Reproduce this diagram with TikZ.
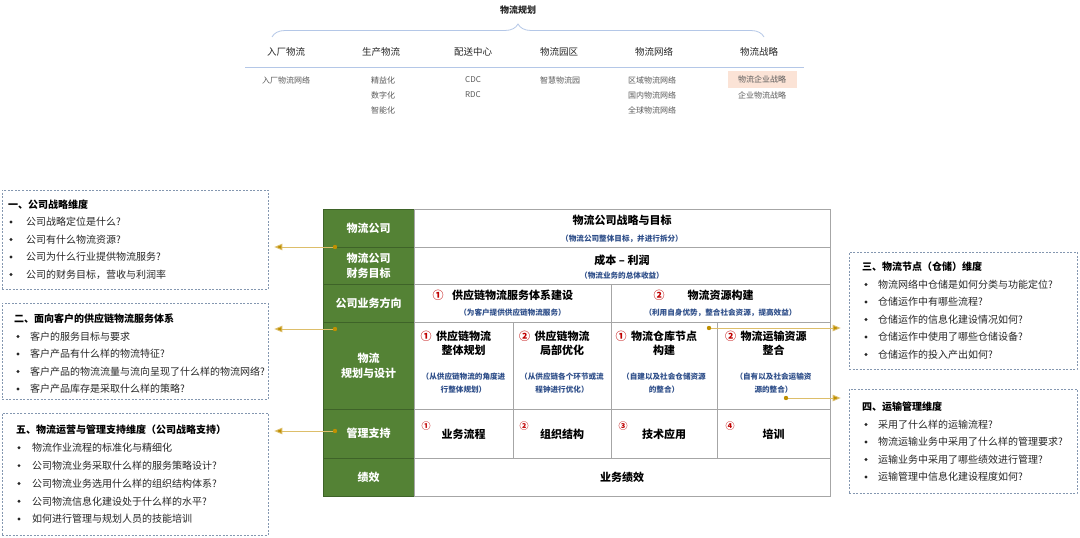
\documentclass[tikz,border=0pt]{standalone}
\usepackage{fontspec}
\setmainfont{Noto Sans CJK SC}
\usetikzlibrary{arrows.meta,decorations.pathreplacing,calc}

\definecolor{tgreen}{HTML}{548235}
\definecolor{tgreenD}{HTML}{3E6328}
\definecolor{tgrid}{HTML}{A6A6A6}
\definecolor{tblue}{HTML}{2F4F8A}
\definecolor{tred}{HTML}{C00000}
\definecolor{goldD}{HTML}{BF9000}
\definecolor{goldL}{HTML}{DDBE6A}
\definecolor{dashc}{HTML}{8497B0}
\definecolor{txt}{HTML}{262626}
\definecolor{topc}{HTML}{262626}
\definecolor{itemc}{HTML}{595959}
\definecolor{bracec}{HTML}{B4C7E7}
\definecolor{hilite}{HTML}{FBE3D6}

\tikzset{
  gcell/.style={draw=tgreenD, fill=tgreen, line width=0.6pt, inner sep=0pt, text=white,
    font=\fontsize{11}{15}\selectfont\bfseries, align=center},
  wcell/.style={draw=tgrid, fill=white, line width=0.7pt, inner sep=0pt},
  ttl/.style={inner sep=0pt, font=\fontsize{11}{14}\selectfont\bfseries, text=black},
  subt/.style={inner sep=0pt, font=\fontsize{7.6}{13}\selectfont\bfseries, text=tblue, align=center},
  numr/.style={inner sep=0pt, font=\fontsize{11}{14}\selectfont\bfseries, text=tred},
  nums/.style={inner sep=0pt, font=\fontsize{9}{11}\selectfont\bfseries, text=tred},
  qbox/.style={draw=dashc, dash pattern=on 2pt off 1.5pt, line width=0.7pt, inner sep=0pt},
  qtitle/.style={inner sep=0pt, anchor=west, font=\fontsize{10}{12}\selectfont\bfseries, text=black},
  qline/.style={inner sep=0pt, anchor=west, font=\fontsize{10}{12}\selectfont, text=txt},
  qdot/.style={circle, fill=txt, inner sep=0pt, minimum size=3.2pt},
  conn/.style={draw=goldL, line width=0.9pt, -{Triangle[length=8pt,width=6.5pt,fill=goldD]}},
  dotc/.style={fill=goldD},
  toptitle/.style={inner sep=0pt, font=\fontsize{9}{11}\selectfont\bfseries, text=topc},
  head/.style={inner sep=0pt, font=\fontsize{9.5}{11}\selectfont, text=topc},
  item/.style={inner sep=0pt, font=\fontsize{8}{10}\selectfont, text=itemc},
}

\begin{document}
\begin{tikzpicture}[x=1pt,y=-1pt]
\useasboundingbox (0,0) rectangle (1080,538);
\fill[white] (0,0) rectangle (1080,538);

% ---------- top tree ----------
\node[toptitle] (root) at (518,10) {物流规划};
\draw[bracec, line width=0.8pt, decorate, decoration={brace, amplitude=13pt, aspect=0.5}] (272,37) -- (764,37);
\draw[bracec, line width=0.8pt] (245,67) -- (804,67);

\node[head] (h1) at (286,52) {入厂物流};
\node[head] (h2) at (381,52) {生产物流};
\node[head] (h3) at (473,52) {配送中心};
\node[head] (h4) at (559,52) {物流园区};
\node[head] (h5) at (654,52) {物流网络};
\node[head] (h6) at (759,52) {物流战略};

\node[item] (i1a) at (286,80) {入厂物流网络};
\node[item] (i2a) at (383,80) {精益化};
\node[item] (i2b) at (383,95) {数字化};
\node[item] (i2c) at (383,110) {智能化};
\node[item] (i3a) at (473,80) {CDC};
\node[item] (i3b) at (473,95) {RDC};
\node[item] (i4a) at (560,80) {智慧物流园};
\node[item] (i5a) at (652,80) {区域物流网络};
\node[item] (i5b) at (652,95) {国内物流网络};
\node[item] (i5c) at (652,110) {全球物流网络};
\node[item, fill=hilite, minimum width=69pt, minimum height=17pt] (i6a) at (762,79) {物流企业战略};
\node[item] (i6b) at (762,95) {企业物流战略};

% ---------- table ----------
\node[gcell, minimum width=91pt, minimum height=38pt] (g1) at (368.5,228) {物流公司};
\node[gcell, minimum width=91pt, minimum height=37pt] (g2) at (368.5,265.5) {物流公司\\财务目标};
\node[gcell, minimum width=91pt, minimum height=38pt] (g3) at (368.5,303) {公司业务方向};
\node[gcell, minimum width=91pt, minimum height=87pt] (g4) at (368.5,365.5) {物流\\规划与设计};
\node[gcell, minimum width=91pt, minimum height=49pt] (g5) at (368.5,433.5) {管理支持};
\node[gcell, minimum width=91pt, minimum height=38pt] (g6) at (368.5,477) {绩效};

\node[wcell, minimum width=416pt, minimum height=38pt] (c1) at (622,228) {};
\node[wcell, minimum width=416pt, minimum height=37pt] (c2) at (622,265.5) {};
\node[wcell, minimum width=197pt, minimum height=38pt] (c3a) at (512.5,303) {};
\node[wcell, minimum width=219pt, minimum height=38pt] (c3b) at (720.5,303) {};
\node[wcell, minimum width=99pt, minimum height=87pt] (c4a) at (463.5,365.5) {};
\node[wcell, minimum width=98pt, minimum height=87pt] (c4b) at (562,365.5) {};
\node[wcell, minimum width=106pt, minimum height=87pt] (c4c) at (664,365.5) {};
\node[wcell, minimum width=113pt, minimum height=87pt] (c4d) at (773.5,365.5) {};
\node[wcell, minimum width=99pt, minimum height=49pt] (c5a) at (463.5,433.5) {};
\node[wcell, minimum width=98pt, minimum height=49pt] (c5b) at (562,433.5) {};
\node[wcell, minimum width=106pt, minimum height=49pt] (c5c) at (664,433.5) {};
\node[wcell, minimum width=113pt, minimum height=49pt] (c5d) at (773.5,433.5) {};
\node[wcell, minimum width=416pt, minimum height=38pt] (c6) at (622,477) {};

% row 1, 2
\node[ttl] (t1) at (622,220) {物流公司战略与目标};
\node[subt] (s1) at (622,239) {（物流公司整体目标，并进行拆分）};
\node[ttl] (t2) at (622,260) {成本 – 利润};
\node[subt] (s2) at (622,276) {（物流业务的总体收益）};
% row 3
\node[ttl] (t3a) at (512.5,295) {供应链物流服务体系建设};
\node[numr, anchor=east] (n3a) at ([xshift=-8pt]t3a.west) {①};
\node[subt] (s3a) at (512.5,313) {（为客户提供供应链物流服务）};
\node[ttl] (t3b) at (720.5,295) {物流资源构建};
\node[numr] (n3b) at (659,295) {②};
\node[subt] (s3b) at (720.5,313) {（利用自身优势，整合社会资源，提高效益）};
% row 4
\node[ttl] (t4a1) at (463.5,336) {供应链物流};
\node[ttl] (t4a2) at (463.5,350) {整体规划};
\node[numr, anchor=east] (n4a) at ([xshift=-4pt]t4a1.west) {①};
\node[subt] (s4a) at (463.5,383.5) {（从供应链物流的角度进\\行整体规划）};
\node[ttl] (t4b1) at (562,336) {供应链物流};
\node[ttl] (t4b2) at (562,350) {局部优化};
\node[numr, anchor=east] (n4b) at ([xshift=-4pt]t4b1.west) {②};
\node[subt] (s4b) at (562,383.5) {（从供应链各个环节或流\\程钟进行优化）};
\node[ttl] (t4c1) at (664,336) {物流仓库节点};
\node[ttl] (t4c2) at (664,350) {构建};
\node[numr, anchor=east] (n4c) at ([xshift=-4pt]t4c1.west) {①};
\node[subt] (s4c) at (664,383.5) {（自建以及社会仓储资源\\的整合）};
\node[ttl] (t4d1) at (773.5,336) {物流运输资源};
\node[ttl] (t4d2) at (773.5,350) {整合};
\node[numr, anchor=east] (n4d) at ([xshift=-4pt]t4d1.west) {②};
\node[subt] (s4d) at (773.5,383.5) {（自有以及社会运输资\\源的整合）};
% row 5
\node[ttl] (t5a) at (463.5,434) {业务流程};
\node[nums] (n5a) at (426,426) {①};
\node[ttl] (t5b) at (562,434) {组织结构};
\node[nums] (n5b) at (524,426) {②};
\node[ttl] (t5c) at (664,434) {技术应用};
\node[nums] (n5c) at (623,426) {③};
\node[ttl] (t5d) at (773.5,434) {培训};
\node[nums] (n5d) at (730,426) {④};
% row 6
\node[ttl] (t6) at (622,477) {业务绩效};

% ---------- question boxes ----------
\node[qbox, minimum width=266pt, minimum height=99pt] (box1) at (135,239.5) {};
\node[qtitle] (q1) at (8,204.5) {一、公司战略维度};
\foreach \t [count=\i] in {公司战略定位是什么?,公司有什么物流资源?,公司为什么行业提供物流服务?,公司的财务目标，营收与利润率}{
  \node[qdot] (b1d\i) at (11,{204.5+17.5*\i}) {};
  \node[qline] (b1l\i) at (26,{204.5+17.5*\i}) {\t};
}

\node[qbox, minimum width=266pt, minimum height=96pt] (box2) at (135,351) {};
\node[qtitle] (q2) at (14,319) {二、面向客户的供应链物流服务体系};
\foreach \t [count=\i] in {客户的服务目标与要求,客户产品有什么样的物流特征?,客户产品的物流流量与流向呈现了什么样的物流网络?,客户产品库存是采取什么样的策略?}{
  \node[qdot] (b2d\i) at (18,{319+17.5*\i}) {};
  \node[qline] (b2l\i) at (30,{319+17.5*\i}) {\t};
}

\node[qbox, minimum width=266pt, minimum height=122pt] (box3) at (135,474) {};
\node[qtitle] (q3) at (16,430) {五、物流运营与管理支持维度（公司战略支持）};
\foreach \t [count=\i] in {物流作业流程的标准化与精细化,公司物流业务采取什么样的服务策略设计?,公司物流业务选用什么样的组织结构体系?,公司物流信息化建设处于什么样的水平?,如何进行管理与规划人员的技能培训}{
  \node[qdot] (b3d\i) at (19,{430+17.8*\i}) {};
  \node[qline] (b3l\i) at (32,{430+17.8*\i}) {\t};
}

\node[qbox, minimum width=228pt, minimum height=117pt] (box4) at (963,310.5) {};
\node[qtitle] (q4) at (862,267) {三、物流节点（仓储）维度};
\foreach \t [count=\i] in {物流网络中仓储是如何分类与功能定位?,仓储运作中有哪些流程?,仓储运作的信息化建设情况如何?,仓储运作中使用了哪些仓储设备?,仓储运作的投入产出如何?}{
  \node[qdot] (b4d\i) at (866,{267+17.5*\i}) {};
  \node[qline] (b4l\i) at (878,{267+17.5*\i}) {\t};
}

\node[qbox, minimum width=228pt, minimum height=104pt] (box5) at (963,441) {};
\node[qtitle] (q5) at (862,407) {四、运输管理维度};
\foreach \t [count=\i] in {采用了什么样的运输流程?,物流运输业务中采用了什么样的管理要求?,运输业务中采用了哪些绩效进行管理?,运输管理中信息化建设程度如何?}{
  \node[qdot] (b5d\i) at (866,{407+17.5*\i}) {};
  \node[qline] (b5l\i) at (878,{407+17.5*\i}) {\t};
}

% ---------- connectors ----------
\coordinate (d1) at (335,247);
\coordinate (d2) at (335,329);
\coordinate (d3) at (335,431);
\coordinate (d4) at (709,328);
\coordinate (d5) at (786,398);
\draw[conn, shorten >=6pt] (d1) -- (d1 -| box1.east);
\draw[conn, shorten >=6pt] (d2) -- (d2 -| box2.east);
\draw[conn, shorten >=6pt] (d3) -- (d3 -| box3.east);
\draw[conn, shorten >=8pt] (d4) -- (d4 -| box4.west);
\draw[conn, shorten >=8pt] (d5) -- (d5 -| box5.west);
\foreach \d in {d1,d2,d3,d4,d5}{\fill[dotc] (\d) circle (2.2);}
\end{tikzpicture}
\end{document}
